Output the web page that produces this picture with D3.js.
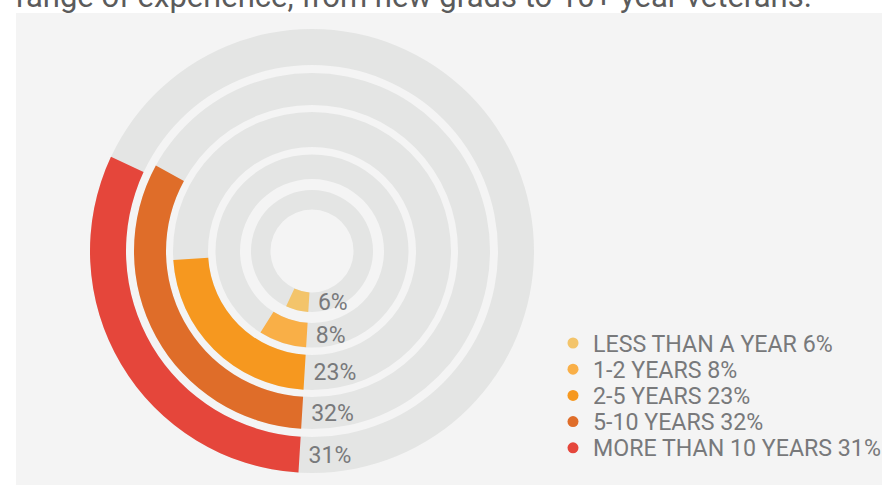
<!DOCTYPE html>
<html>
<head>
<meta charset="utf-8">
<script src="https://cdn.jsdelivr.net/npm/d3@7"></script>
<style>
  html, body { margin: 0; padding: 0; background: #ffffff; }
  svg { display: block; font-family: Roboto, "Noto Sans", sans-serif; }
</style>
</head>
<body>
<svg id="chart" width="882" height="485"></svg>
<script>
// Years of experience, share of respondents
const categories = ["LESS THAN A YEAR", "1-2 YEARS", "2-5 YEARS", "5-10 YEARS", "MORE THAN 10 YEARS"];
const shares = [6, 8, 23, 32, 31];
const colors = ["#F3C46A", "#F9AF47", "#F6981F", "#DF6D29", "#E5463B"];
const titleText = "range of experience, from new grads to 10+ year veterans.";

// Ring geometry, innermost ring first
const ringInner = [41.5, 72, 104, 146, 186];
const ringOuter = [61, 96.5, 139, 178, 222];
const cx = 312, cy = 251;
const startAngle = Math.PI + 0.061;

const svg = d3.select("#chart");

// Heading line running off the top edge
svg.append("text")
  .attr("x", 16)
  .attr("y", 7)
  .attr("fill", "#5b5b5b")
  .attr("font-size", 31)
  .text(titleText);

// Panel
svg.append("rect")
  .attr("x", 16).attr("y", 13)
  .attr("width", 882 - 16).attr("height", 485 - 13)
  .attr("fill", "#f4f4f4");

const angle = d3.scaleLinear().domain([0, 100]).range([0, 2 * Math.PI]);
const arc = d3.arc();

const rings = categories.map((c, i) => ({
  category: c,
  value: shares[i],
  color: colors[i],
  inner: ringInner[i],
  outer: ringOuter[i]
}));

const g = svg.append("g").attr("transform", `translate(${cx},${cy})`);

// Full gray tracks
g.selectAll("path.track")
  .data(rings)
  .join("path")
  .attr("class", "track")
  .attr("fill", "#e4e5e4")
  .attr("d", d => arc({ innerRadius: d.inner, outerRadius: d.outer, startAngle: 0, endAngle: 2 * Math.PI }));

// Value arcs, sweeping clockwise from the bottom
g.selectAll("path.value")
  .data(rings)
  .join("path")
  .attr("class", "value")
  .attr("fill", d => d.color)
  .attr("d", d => arc({
    innerRadius: d.inner,
    outerRadius: d.outer,
    startAngle: startAngle,
    endAngle: startAngle + angle(d.value)
  }));

// Percent labels just past the start of each arc
g.selectAll("text.pct")
  .data(rings)
  .join("text")
  .attr("class", "pct")
  .attr("x", d => ((d.inner + d.outer) / 2) * Math.sin(startAngle) + 9)
  .attr("y", d => -((d.inner + d.outer) / 2) * Math.cos(startAngle) + 8)
  .attr("fill", "#78797b")
  .attr("font-size", 23)
  .text(d => d.value + "%");

// Legend
const legend = svg.append("g").attr("transform", "translate(573,343)");
const rows = legend.selectAll("g.row")
  .data(rings)
  .join("g")
  .attr("class", "row")
  .attr("transform", (d, i) => `translate(0,${i * 26.2})`);

rows.append("circle")
  .attr("r", 5.5)
  .attr("fill", d => d.color);

rows.append("text")
  .attr("x", 20)
  .attr("y", 8.5)
  .attr("fill", "#78797b")
  .attr("font-size", 23.2)
  .text(d => `${d.category} ${d.value}%`);
</script>
</body>
</html>
